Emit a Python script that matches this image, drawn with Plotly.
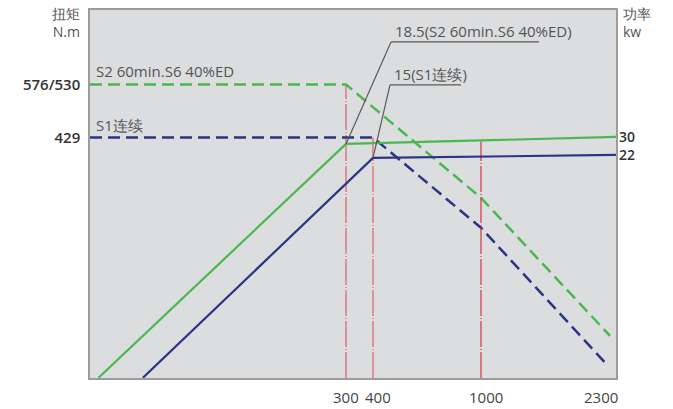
import numpy as np
import plotly.graph_objects as go

# ---------------- data ----------------
speed_ticks = [300, 400, 1000, 2300]
speed_tick_labels = ["300", "400", "1000", "2300"]

# torque curves (N.m) vs speed (rpm)
s2_torque_speed = [0, 300, 1000, 2300]
s2_torque = [530, 530, 314, 51]
s1_torque_speed = [0, 400, 1000, 2250]
s1_torque = [429, 429, 257, 0]

# power curves (kW) vs speed (rpm)
s2_power_speed = [10, 300, 2360]
s2_power = [-77, 26.9, 30]
s1_power_speed = [62, 400, 2360]
s1_power = [-77, 20.7, 22]

torque_ticks = [530, 429]
torque_tick_labels = ["576/530", "429"]
power_ticks = [30, 22]
power_tick_labels = ["30", "22"]

marker_speeds = [300, 400, 1000]

# ---------------- schematic (broken) speed scale ----------------
WARP_RPM = [0, 300, 400, 1000, 2300, 2400]
WARP_POS = [0, 256, 283, 391, 520, 530]


def sx(r):
    return np.interp(np.asarray(r, dtype=float), WARP_RPM, WARP_POS)


X_RANGE = [0, 526]
T_RANGE = [-29.3, 672]
P_RANGE = [-77.1, 86.4]

GREEN = "#4bb84f"
BLUE = "#2a3584"
RED = "#e4606b"
FONT = "Open Sans"

fig = go.Figure()

# red marker lines
red_tops = [
    ("y", float(np.interp(300, s2_torque_speed, s2_torque)), T_RANGE[0], RED),
    ("y", float(np.interp(400, s1_torque_speed, s1_torque)), T_RANGE[0], RED),
    ("y2", float(np.interp(1000, s2_power_speed, s2_power)), P_RANGE[0], "#d93340"),
]
for spd, (ax, top, bot, col) in zip(marker_speeds, red_tops):
    fig.add_trace(go.Scatter(
        x=sx([spd, spd]), y=[bot, top], yaxis=ax, mode="lines",
        line=dict(color=col, width=1.2, dash="26px,2px,1px,2px"),
        hoverinfo="skip", showlegend=False))

# torque (dashed)
fig.add_trace(go.Scatter(x=sx(s2_torque_speed), y=s2_torque, mode="lines",
                         line=dict(color=GREEN, width=2.5, dash="12px,6px"),
                         showlegend=False, name="S2 torque"))
fig.add_trace(go.Scatter(x=sx(s1_torque_speed), y=s1_torque, mode="lines",
                         line=dict(color=BLUE, width=2.5, dash="12px,6px"),
                         showlegend=False, name="S1 torque"))

# power (solid)
fig.add_trace(go.Scatter(x=sx(s2_power_speed), y=s2_power, yaxis="y2", mode="lines",
                         line=dict(color=GREEN, width=2.2),
                         showlegend=False, name="S2 power"))
fig.add_trace(go.Scatter(x=sx(s1_power_speed), y=s1_power, yaxis="y2", mode="lines",
                         line=dict(color=BLUE, width=2.2),
                         showlegend=False, name="S1 power"))

LEAD = dict(color="#5a5a5a", width=1.2)
# leader lines for the knee call-outs
callouts = [
    (s2_power_speed[1], s2_power[1], "18.5(S2 60min.S6 40%ED)", 45, 102, 193),
    (s1_power_speed[1], s1_power[1], "15(S1连续)", 17, 73, 88),
]
shapes = []
annotations = []
for spd, pw, txt, dx, dy, ulen in callouts:
    xa = float(sx(spd))
    shapes.append(dict(type="line", xref="x", yref="y2", xsizemode="pixel", ysizemode="pixel",
                       xanchor=xa, yanchor=pw, x0=0, y0=0, x1=dx, y1=dy, line=LEAD))
    shapes.append(dict(type="line", xref="x", yref="y2", xsizemode="pixel", ysizemode="pixel",
                       xanchor=xa, yanchor=pw, x0=dx, y0=dy, x1=ulen, y1=dy, line=LEAD))
    annotations.append(dict(x=xa, y=pw, xref="x", yref="y2", text=txt, showarrow=False,
                            xanchor="left", yanchor="bottom", xshift=dx + 2, yshift=dy - 1,
                            font=dict(family=FONT, size=15, color="#555555")))

# curve labels
annotations.append(dict(x=0, y=s2_torque[0], xref="paper", yref="y", text="S2 60min.S6 40%ED",
                        showarrow=False, xanchor="left", yanchor="bottom", xshift=4, yshift=2,
                        font=dict(family=FONT, size=15, color="#555555")))
annotations.append(dict(x=0, y=s1_torque[0], xref="paper", yref="y", text="S1连续",
                        showarrow=False, xanchor="left", yanchor="bottom", xshift=4, yshift=1,
                        font=dict(family=FONT, size=15, color="#555555")))

# speed tick labels (spread slightly, as in the reference)
label_nudge = [0, 5, 5, -9]
for spd, lab, nd in zip(speed_ticks, speed_tick_labels, label_nudge):
    annotations.append(dict(x=float(sx(spd)), y=0, xref="x", yref="paper", text=lab,
                            showarrow=False, xanchor="center", yanchor="top",
                            xshift=nd, yshift=-7,
                            font=dict(family=FONT, size=15, color="#444444")))

# axis titles
annotations.append(dict(x=0, y=1, xref="paper", yref="paper", text="扭矩<br>N.m",
                        showarrow=False, xanchor="right", yanchor="top", align="right",
                        xshift=-8, yshift=8,
                        font=dict(family=FONT, size=14, color="#555555")))
annotations.append(dict(x=1, y=1, xref="paper", yref="paper", text="功率<br>kw",
                        showarrow=False, xanchor="left", yanchor="top", align="left",
                        xshift=5, yshift=8,
                        font=dict(family=FONT, size=14, color="#555555")))

fig.update_layout(
    width=673, height=409,
    margin=dict(l=90, r=57, t=10, b=31, autoexpand=False),
    paper_bgcolor="white", plot_bgcolor="#dcdddf",
    shapes=shapes, annotations=annotations,
    xaxis=dict(range=X_RANGE, showticklabels=False, automargin=False,
               showgrid=False, zeroline=False, showline=True, mirror=True,
               linecolor="#9c9c9c", linewidth=1.5, ticks=""),
    yaxis=dict(range=T_RANGE, tickvals=torque_ticks, ticktext=torque_tick_labels,
               automargin=False,
               showgrid=False, zeroline=False, showline=True, mirror=True,
               linecolor="#9c9c9c", linewidth=1.5, ticks="", ticklabelstandoff=5,
               tickfont=dict(family=FONT, size=15, color="#333333", weight=600)),
    yaxis2=dict(range=P_RANGE, overlaying="y", side="right", tickvals=power_ticks,
                ticktext=power_tick_labels, showgrid=False, zeroline=False,
                automargin=False,
                showline=False, ticks="", ticklabelstandoff=2,
                tickfont=dict(family=FONT, size=14, color="#333333", weight=600)),
)

fig.write_html("out.html")
